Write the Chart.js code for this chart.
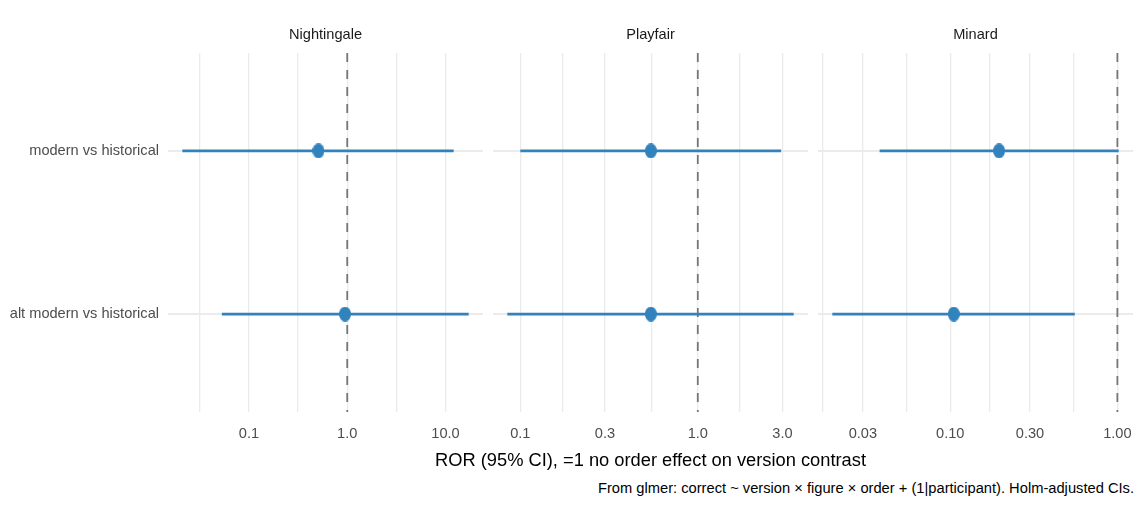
<!DOCTYPE html>
<html>
<head>
<meta charset="utf-8">
<script src="https://cdn.jsdelivr.net/npm/chart.js@4.4.1/dist/chart.umd.min.js"></script>
<style>
  html, body { margin: 0; padding: 0; background: #fff; overflow: hidden; }
  #wrap { position: relative; width: 1142px; height: 518px; overflow: hidden; font-family: "Liberation Sans", Arial, sans-serif; }
  .panel { position: absolute; top: 0; height: 450px; }
  #xTitle { position: absolute; left: 168px; width: 965px; top: 450px; text-align: center; font-size: 18.3px; line-height: 20px; color: #000; }
  #caption { position: absolute; right: 8px; top: 480px; font-size: 14.7px; line-height: 17px; color: #000; white-space: nowrap; }
</style>
</head>
<body>
<div id="wrap">
  <div class="panel" id="p0"><canvas id="c0"></canvas></div>
  <div class="panel" id="p1"><canvas id="c1"></canvas></div>
  <div class="panel" id="p2"><canvas id="c2"></canvas></div>
  <div id="xTitle">ROR (95% CI), =1 no order effect on version contrast</div>
  <div id="caption">From glmer: correct ~ version × figure × order + (1|participant). Holm-adjusted CIs.</div>
</div>
<script>
// Contrasts (rows, top to bottom) and figures (facets)
const contrasts = ['modern vs historical', 'alt modern vs historical'];
const figures = ['Nightingale', 'Playfair', 'Minard'];
const refValue = 1;

// ROR estimates and 95% CI bounds, one value per contrast
const nightingaleEst = [0.51, 0.95];
const nightingaleLow = [0.021, 0.053];
const nightingaleHigh = [12.1, 17.2];

const playfairEst = [0.544, 0.544];
const playfairLow = [0.100, 0.0845];
const playfairHigh = [2.95, 3.47];

const minardEst = [0.196, 0.105];
const minardLow = [0.0378, 0.0197];
const minardHigh = [1.018, 0.556];

// Labelled ticks and minor grid lines per facet
const nightingaleTicks = [0.1, 1, 10];
const nightingaleTickLabels = ['0.1', '1.0', '10.0'];
const nightingaleMinor = [0.0316, 0.316, 3.16];

const playfairTicks = [0.1, 0.3, 1, 3];
const playfairTickLabels = ['0.1', '0.3', '1.0', '3.0'];
const playfairMinor = [0.1732, 0.5477, 1.732];

const minardTicks = [0.03, 0.1, 0.3, 1];
const minardTickLabels = ['0.03', '0.10', '0.30', '1.00'];
const minardMinor = [0.01732, 0.05477, 0.1732, 0.5477];

const facetData = [
  { est: nightingaleEst, low: nightingaleLow, high: nightingaleHigh, ticks: nightingaleTicks, labels: nightingaleTickLabels, minor: nightingaleMinor },
  { est: playfairEst, low: playfairLow, high: playfairHigh, ticks: playfairTicks, labels: playfairTickLabels, minor: playfairMinor },
  { est: minardEst, low: minardLow, high: minardHigh, ticks: minardTicks, labels: minardTickLabels, minor: minardMinor }
];

// canvas placement for each facet (plot areas: 168-483, 493-808, 818-1133)
const panels = [
  { left: 0, width: 503, padL: 0, padR: 20, yAxis: true },
  { left: 473, width: 355, padL: 20, padR: 20, yAxis: false },
  { left: 798, width: 355, padL: 20, padR: 20, yAxis: false }
];

const blue = '#3182bd';
const font = 'Liberation Sans';
Chart.defaults.font.family = font;

function ellipseDot(w, h, color) {
  const c = document.createElement('canvas');
  c.width = w; c.height = h;
  const g = c.getContext('2d');
  g.fillStyle = color;
  g.beginPath();
  g.ellipse(w / 2, h / 2, w / 2, h / 2, 0, 0, Math.PI * 2);
  g.fill();
  return c;
}
const dot = ellipseDot(12, 15, blue);

// log limits with 5% expansion, like ggplot
function logLimits(low, high) {
  const a = Math.log10(Math.min(...low)), b = Math.log10(Math.max(...high));
  const pad = (b - a) * 0.05;
  return [Math.pow(10, a - pad), Math.pow(10, b + pad)];
}

// dashed reference line at ROR = 1
const refLine = {
  id: 'refLine',
  beforeDatasetsDraw(chart) {
    const { ctx, chartArea: a, scales: { x } } = chart;
    const px = x.getPixelForValue(refValue);
    ctx.save();
    ctx.strokeStyle = '#767676';
    ctx.lineWidth = 1.8;
    ctx.setLineDash([9, 8]);
    ctx.beginPath();
    ctx.moveTo(px, a.top);
    ctx.lineTo(px, a.bottom);
    ctx.stroke();
    ctx.restore();
  }
};

facetData.forEach((f, k) => {
  const p = panels[k];
  const box = document.getElementById('p' + k);
  box.style.left = p.left + 'px';
  box.style.width = p.width + 'px';

  const [xmin, xmax] = logLimits(f.low, f.high);

  const datasets = f.est.map((v, i) => ({
    data: [{ x: f.low[i], y: i + 1 }, { x: f.high[i], y: i + 1 }],
    showLine: true,
    borderColor: blue,
    borderWidth: 2.6,
    borderCapStyle: 'butt',
    pointRadius: 0
  }));
  datasets.push({
    data: f.est.map((v, i) => ({ x: v, y: i + 1 })),
    pointStyle: dot,
    pointRadius: 6,
    showLine: false
  });

  new Chart(document.getElementById('c' + k), {
    type: 'scatter',
    data: { datasets },
    options: {
      responsive: true,
      maintainAspectRatio: false,
      animation: false,
      events: [],
      layout: { padding: { left: p.padL, right: p.padR, top: 0, bottom: 0 } },
      plugins: {
        legend: { display: false },
        tooltip: { enabled: false },
        title: {
          display: true,
          text: figures[k],
          fullSize: false,
          color: '#1a1a1a',
          font: { size: 14.6, weight: 'normal', family: font },
          padding: { top: 26, bottom: 9.5 }
        }
      },
      scales: {
        x: {
          type: 'logarithmic',
          bounds: 'data',
          min: xmin,
          max: xmax,
          afterBuildTicks: s => {
            s.ticks = f.ticks.concat(f.minor).sort((a, b) => a - b).map(v => ({ value: v }));
          },
          afterFit: s => { s.height = 38; },
          ticks: {
            autoSkip: false,
            maxRotation: 0,
            padding: 13,
            color: '#4d4d4d',
            font: { size: 14.6, family: font },
            callback: v => {
              const j = f.ticks.indexOf(v);
              return j >= 0 ? f.labels[j] : '';
            }
          },
          grid: { color: '#ebebeb', lineWidth: 1.3, drawTicks: false },
          border: { display: false }
        },
        y: {
          type: 'linear',
          min: 0.4,
          max: 2.6,
          reverse: true,
          afterBuildTicks: s => { s.ticks = contrasts.map((c, i) => ({ value: i + 1 })); },
          afterFit: s => { s.width = p.yAxis ? 168 : 0; },
          ticks: {
            display: p.yAxis,
            padding: 9,
            color: '#4d4d4d',
            font: { size: 14.6, family: font },
            callback: v => contrasts[v - 1]
          },
          grid: { color: '#ebebeb', lineWidth: 2, drawTicks: false },
          border: { display: false }
        }
      }
    },
    plugins: [refLine]
  });
});
</script>
</body>
</html>
